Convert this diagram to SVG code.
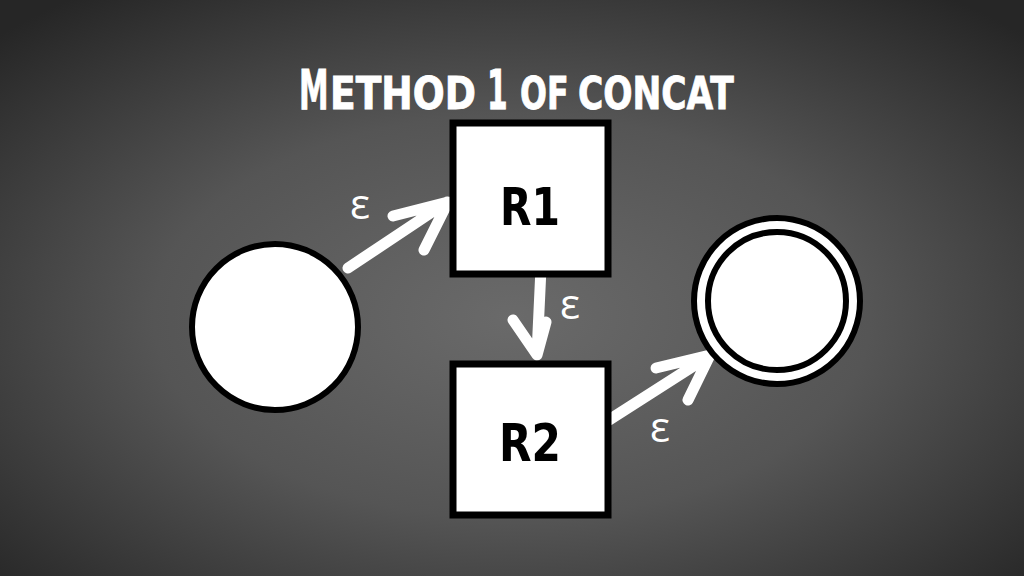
<svg xmlns="http://www.w3.org/2000/svg" width="1024" height="576" viewBox="0 0 1024 576">
<defs>
<radialGradient id="bg" cx="50%" cy="55%" r="70%">
<stop offset="0" stop-color="#6a6a6a"/>
<stop offset="0.5" stop-color="#555555"/>
<stop offset="1" stop-color="#262626"/>
</radialGradient>
<style>
.node{fill:#ffffff;stroke:#000000;stroke-width:6}
.box{fill:#ffffff;stroke:#000000;stroke-width:7}
.arr{fill:none;stroke:#ffffff;stroke-width:11;stroke-linecap:round;stroke-linejoin:round}
.eps{fill:#ffffff;font-family:"Open Sans","DejaVu Sans",sans-serif;font-size:42px}
.lbl{fill:#000000;font-family:"DejaVu Sans Condensed","DejaVu Sans",sans-serif;font-weight:bold;font-size:52px}
.title{fill:#ffffff;stroke:#ffffff;stroke-width:0.8;font-family:"DejaVu Sans Condensed","DejaVu Sans",sans-serif;font-weight:bold}
.big{font-size:55px}
.small{font-size:44px}
</style>
</defs>
<rect width="1024" height="576" fill="url(#bg)"/>
<g id="title">
<text class="title big" transform="translate(299,109) scale(0.6,1)">M</text>
<text class="title small" transform="translate(330,109) scale(0.95,1)">ETHOD</text>
<text class="title big" transform="translate(487,109) scale(0.6,1)">1</text>
<text class="title small" transform="translate(520,109) scale(0.8,1)">OF</text>
<text class="title small" transform="translate(578,109) scale(0.87,1)">CONCAT</text>
</g>
<g id="connectors">
<path class="arr" d="M348,268 L447,202 M393,216 L448,202 L424,250"/>
<path class="arr" d="M541,268 L537,354 M513,320 L537,355 L546,322"/>
<path class="arr" d="M609,420 L709,356 M656,368 L710,355 L688,400"/>
<text class="eps" x="350" y="219">ε</text>
<text class="eps" x="560" y="319">ε</text>
<text class="eps" x="650" y="442">ε</text>
</g>
<g id="start">
<circle class="node" cx="275" cy="327" r="83"/>
</g>
<g id="R1">
<rect class="box" x="453" y="123" width="155" height="151"/>
<text class="lbl" x="530" y="225" text-anchor="middle" textLength="60" lengthAdjust="spacingAndGlyphs">R1</text>
</g>
<g id="R2">
<rect class="box" x="453" y="364" width="155" height="151"/>
<text class="lbl" x="530" y="461" text-anchor="middle" textLength="62" lengthAdjust="spacingAndGlyphs">R2</text>
</g>
<g id="accept">
<circle class="node" cx="777" cy="301" r="83"/>
<circle class="node" cx="777" cy="301" r="69" stroke-width="5"/>
</g>
</svg>
